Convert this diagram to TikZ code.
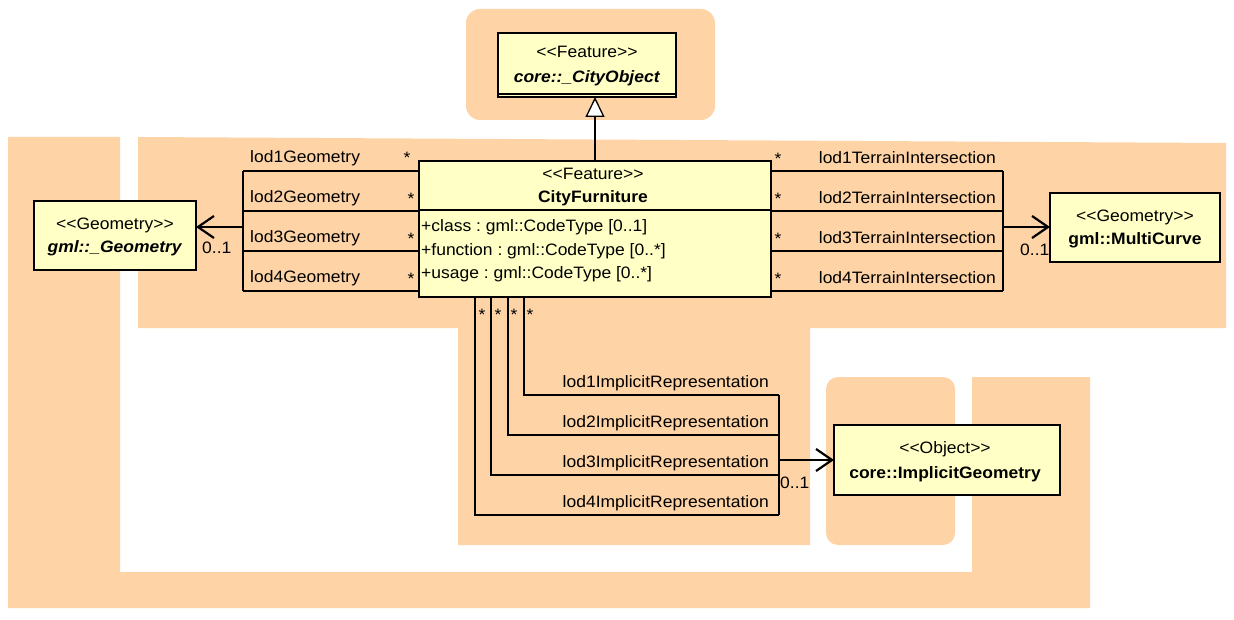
\documentclass[tikz,border=0pt]{standalone}
\usepackage{fontspec}
\setmainfont{Liberation Sans}[FakeStretch=1.06]
\usetikzlibrary{arrows.meta}
\definecolor{peach}{RGB}{254,211,166}
\definecolor{classyellow}{RGB}{255,255,198}
\newcommand{\stereo}[1]{\textless\kern0pt\textless\kern0pt #1\kern0pt\textgreater\kern0pt\textgreater}
\frenchspacing

\begin{document}
\begin{tikzpicture}[x=1pt, y=-1pt,
		font=\fontsize{16.5pt}{24pt}\selectfont,
		classbox/.style={draw, fill=classyellow, line width=1.5pt, inner sep=0pt, outer sep=0pt},
		lbl/.style={inner sep=0pt, anchor=base west},
		rlbl/.style={inner sep=0pt, anchor=base east},
		mlbl/.style={inner sep=0pt, anchor=base},
		assoc/.style={line width=1.3pt},
		navarrow/.style={line width=2.8pt, -{Straight Barb[length=16pt,width=22pt,line width=2.2pt]}},
		genarrow/.style={line width=1.3pt, -{Triangle[open,fill=white,length=20pt,width=19pt]}}]
		\useasboundingbox (0,0) rectangle (1234,620);
		% package areas
		\fill[peach, rounded corners=14pt] (466,9) rectangle (715,120);
		\fill[peach] (8,137) -- (120,137) -- (120,572) -- (972,572) -- (972,377) -- (1090,377) -- (1090,608) -- (8,608) -- cycle;
		\fill[peach] (138,137) -- (1226,143) -- (1226,328) -- (810,328) -- (810,545) -- (458,545) -- (458,328) -- (138,328) -- cycle;
		\fill[peach, rounded corners=12pt] (826,377) rectangle (955,545);
		% classes
		\node[classbox, minimum width=178pt, minimum height=64pt] (cityobj) at (587,65) {};
		\draw[line width=1.5pt] ([yshift=3pt]cityobj.south west) -- ([yshift=3pt]cityobj.south east);
		\node[classbox, minimum width=352pt, minimum height=136pt] (cf) at (595,229) {};
		\draw[line width=1.5pt] (cf.west |- 0,210) -- (cf.east |- 0,210);
		\node[classbox, minimum width=162pt, minimum height=69pt] (geom) at (115,235.5) {};
		\node[classbox, minimum width=170pt, minimum height=69pt] (mcurve) at (1135,227.5) {};
		\node[classbox, minimum width=226pt, minimum height=70pt] (implgeom) at (947,460) {};
		\node[mlbl] (cityobj-st) at (587,58) {\stereo{Feature}};
		\node[mlbl] (cityobj-nm) at (587,83) {\textbf{\textit{core::\_CityObject}}};
		\node[mlbl] (cf-st) at (593,180) {\stereo{Feature}};
		\node[mlbl] (cf-nm) at (593,203) {\textbf{CityFurniture}};
		\node[lbl] (cf-a1) at (421,232) {+class : gml::CodeType [0..1]};
		\node[lbl] (cf-a2) at (421,256) {+function : gml::CodeType [0..*]};
		\node[lbl] (cf-a3) at (421,279) {+usage : gml::CodeType [0..*]};
		\node[mlbl] (geom-st) at (115,230) {\stereo{Geometry}};
		\node[mlbl] (geom-nm) at (115,253) {\textbf{\textit{gml::\_Geometry}}};
		\node[mlbl] (mcurve-st) at (1135,222) {\stereo{Geometry}};
		\node[mlbl] (mcurve-nm) at (1135,245) {\textbf{gml::MultiCurve}};
		\node[mlbl] (implgeom-st) at (945,453) {\stereo{Object}};
		\node[mlbl] (implgeom-nm) at (945,478) {\textbf{core::ImplicitGeometry}};
		% generalization
		\draw[genarrow] (cf.north) -- (cf.north |- cityobj.south);
		% lodXGeometry
		\coordinate (gj1) at (243,171);
		\coordinate (gj2) at (243,211);
		\coordinate (gj3) at (243,251);
		\coordinate (gj4) at (243,291);
		\coordinate (gjm) at (243,227);
		\draw[assoc] (cf.west |- gj1) -- (gj1);
		\draw[assoc] (cf.west |- gj2) -- (gj2);
		\draw[assoc] (cf.west |- gj3) -- (gj3);
		\draw[assoc] (cf.west |- gj4) -- (gj4);
		\draw[assoc] (gj1) -- (gj4);
		\draw[navarrow] (gjm) -- (geom.east |- gjm);
		\node[lbl] (g1-lbl) at (250,163) {lod1Geometry};
		\node[lbl] (g2-lbl) at (250,203) {lod2Geometry};
		\node[lbl] (g3-lbl) at (250,243) {lod3Geometry};
		\node[lbl] (g4-lbl) at (250,283) {lod4Geometry};
		\node[mlbl] (g1-m) at (407,164) {*};
		\node[mlbl] (g2-m) at (411,205) {*};
		\node[mlbl] (g3-m) at (411,245) {*};
		\node[mlbl] (g4-m) at (411,285) {*};
		\node[lbl] (g-mult) at (202,254) {0..1};
		% lodXTerrainIntersection
		\coordinate (tj1) at (1003,171);
		\coordinate (tj2) at (1003,211);
		\coordinate (tj3) at (1003,251);
		\coordinate (tj4) at (1003,291);
		\coordinate (tjm) at (1003,227);
		\draw[assoc] (cf.east |- tj1) -- (tj1);
		\draw[assoc] (cf.east |- tj2) -- (tj2);
		\draw[assoc] (cf.east |- tj3) -- (tj3);
		\draw[assoc] (cf.east |- tj4) -- (tj4);
		\draw[assoc] (tj1) -- (tj4);
		\draw[navarrow] (tjm) -- (mcurve.west |- tjm);
		\node[rlbl] (t1-lbl) at (996,164) {lod1TerrainIntersection};
		\node[rlbl] (t2-lbl) at (996,204) {lod2TerrainIntersection};
		\node[rlbl] (t3-lbl) at (996,244) {lod3TerrainIntersection};
		\node[rlbl] (t4-lbl) at (996,284) {lod4TerrainIntersection};
		\node[mlbl] (t1-m) at (778,165) {*};
		\node[mlbl] (t2-m) at (778,205) {*};
		\node[mlbl] (t3-m) at (778,245) {*};
		\node[mlbl] (t4-m) at (778,285) {*};
		\node[lbl] (t-mult) at (1020,256) {0..1};
		% lodXImplicitRepresentation
		\coordinate (ij1) at (779,395);
		\coordinate (ij2) at (779,435);
		\coordinate (ij3) at (779,475);
		\coordinate (ij4) at (779,515);
		\coordinate (ijm) at (779,460);
		\draw[assoc] (cf.south -| 524,0) |- (ij1);
		\draw[assoc] (cf.south -| 508,0) |- (ij2);
		\draw[assoc] (cf.south -| 491,0) |- (ij3);
		\draw[assoc] (cf.south -| 475,0) |- (ij4);
		\draw[assoc] (ij1) -- (ij4);
		\draw[navarrow] (ijm) -- (implgeom.west |- ijm);
		\node[rlbl] (i1-lbl) at (769,387) {lod1ImplicitRepresentation};
		\node[rlbl] (i2-lbl) at (769,427) {lod2ImplicitRepresentation};
		\node[rlbl] (i3-lbl) at (769,467) {lod3ImplicitRepresentation};
		\node[rlbl] (i4-lbl) at (769,507) {lod4ImplicitRepresentation};
		\node[mlbl] (i1-m) at (530,320) {*};
		\node[mlbl] (i2-m) at (514,320) {*};
		\node[mlbl] (i3-m) at (498,320) {*};
		\node[mlbl] (i4-m) at (482,320) {*};
		\node[lbl] (i-mult) at (780,488) {0..1};
	\end{tikzpicture}
\end{document}
